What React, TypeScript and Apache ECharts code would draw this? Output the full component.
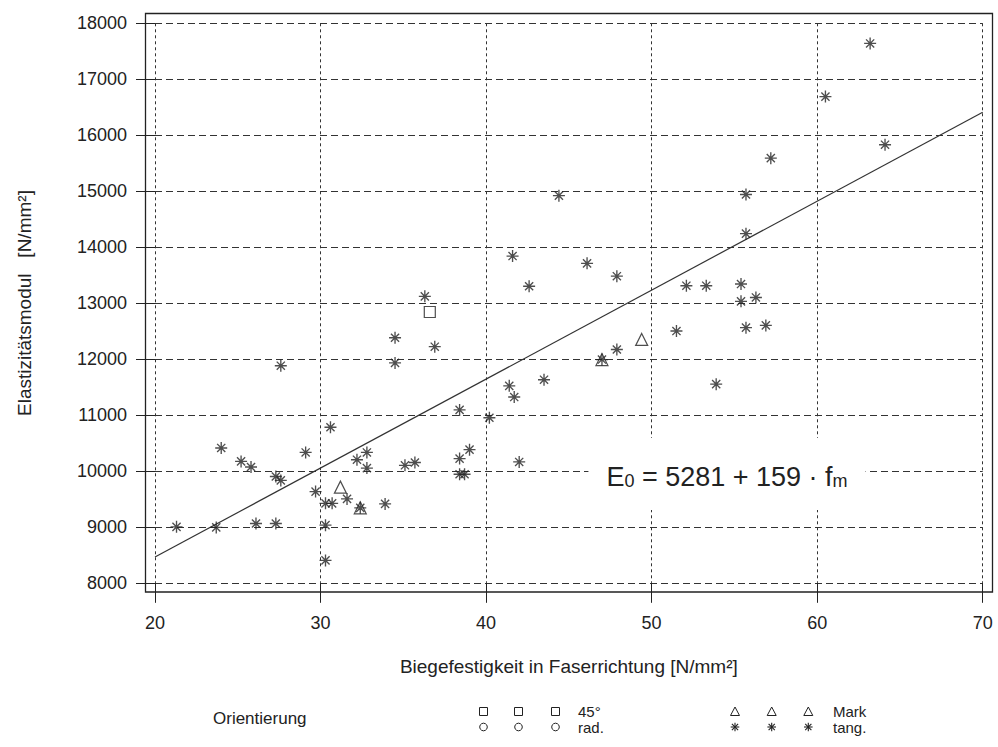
import React, { useEffect, useRef } from "react";
import * as echarts from "echarts";

// ---- Data ----
const xMin = 20;
const xMax = 70;
const xStep = 10;
const yMin = 8000;
const yMax = 18000;
const yStep = 1000;

const xAxisTitle = "Biegefestigkeit in Faserrichtung [N/mm²]";
const yAxisTitle = "Elastizitätsmodul   [N/mm²]";
const legendTitle = "Orientierung";
const legendLabels = ["45°", "rad.", "Mark", "tang."];

// Orientierung = tang. (asterisks)
const tangPoints: [number, number][] = [
  [21.3, 9000], [23.7, 8990], [24.0, 10410], [25.2, 10170], [25.8, 10070],
  [26.1, 9060], [27.3, 9060], [27.3, 9900], [27.6, 9830], [27.6, 11880],
  [29.1, 10330], [29.7, 9630], [30.3, 9030], [30.3, 8400], [30.3, 9420],
  [30.7, 9420], [30.6, 10780], [31.6, 9500], [32.2, 10200], [32.4, 9340],
  [32.8, 10330], [32.8, 10050], [33.9, 9410], [34.5, 12380], [34.5, 11930],
  [35.1, 10100], [35.7, 10150], [36.3, 13120], [36.9, 12220], [38.4, 11090],
  [38.4, 10220], [38.4, 9940], [38.7, 9940], [39.0, 10380], [40.2, 10950],
  [41.4, 11520], [41.7, 11320], [41.6, 13840], [42.0, 10160], [42.6, 13300],
  [43.5, 11630], [44.4, 14920], [46.1, 13710], [47.0, 11990], [47.9, 13480],
  [47.9, 12170], [51.5, 12500], [52.1, 13310], [53.3, 13310], [53.9, 11550],
  [55.4, 13340], [55.4, 13030], [55.7, 12560], [55.7, 14240], [55.7, 14940],
  [56.3, 13100], [56.9, 12600], [57.2, 15590], [60.5, 16690], [63.2, 17640],
  [64.1, 15830],
];
// Orientierung = Mark (triangles)
const markPoints: [number, number][] = [
  [31.2, 9710], [32.4, 9340], [47.0, 11990], [49.4, 12350],
];
// Orientierung = 45° (squares)
const deg45Points: [number, number][] = [[36.6, 12840]];
// Orientierung = rad. (circles) – none visible
const radPoints: [number, number][] = [];
// Regression line E0 = 5281 + 159 · fm, endpoints at 20 and 70
const fitLine: [number, number][] = [[20, 8461], [70, 16411]];

const INK = "#222222";
const FONT = "'Liberation Sans', Arial, Helvetica, sans-serif";
const STAR_PATH =
  "path://M5 0 L5 10 M0 5 L10 5 M1.6 1.6 L8.4 8.4 M1.6 8.4 L8.4 1.6";

function starGroup(cx: number, cy: number, r: number) {
  const d = r * 0.72;
  const st = { stroke: INK, lineWidth: 1.1 };
  return {
    type: "group",
    children: [
      { type: "line", shape: { x1: cx, y1: cy - r, x2: cx, y2: cy + r }, style: st },
      { type: "line", shape: { x1: cx - r, y1: cy, x2: cx + r, y2: cy }, style: st },
      { type: "line", shape: { x1: cx - d, y1: cy - d, x2: cx + d, y2: cy + d }, style: st },
      { type: "line", shape: { x1: cx - d, y1: cy + d, x2: cx + d, y2: cy - d }, style: st },
    ],
  };
}

export default function App() {
  const ref = useRef<HTMLDivElement>(null);

  useEffect(() => {
    if (!ref.current) return;
    const chart = echarts.init(ref.current, null, { renderer: "svg" });

    const legendXs = [483.5, 518.5, 555.5];
    const legendXs2 = [735, 771.7, 808.3];
    const row1 = 711.5;
    const row2 = 727;

    const legendGraphics: any[] = [];
    legendXs.forEach((x) => {
      legendGraphics.push({
        type: "rect",
        shape: { x: x - 4, y: row1 - 4, width: 8, height: 8 },
        style: { fill: "none", stroke: INK, lineWidth: 1 },
      });
      legendGraphics.push({
        type: "circle",
        shape: { cx: x, cy: row2, r: 3.8 },
        style: { fill: "none", stroke: INK, lineWidth: 1 },
      });
    });
    legendXs2.forEach((x) => {
      legendGraphics.push({
        type: "polygon",
        shape: { points: [[x, row1 - 4.5], [x + 4.5, row1 + 4], [x - 4.5, row1 + 4]] },
        style: { fill: "none", stroke: INK, lineWidth: 1 },
      });
      legendGraphics.push(starGroup(x, row2, 4.3));
    });
    const legendTextStyle = {
      fill: INK,
      font: `15px ${FONT}`,
      verticalAlign: "middle",
      lineHeight: 15,
    };
    legendGraphics.push(
      {
        type: "text",
        style: { ...legendTextStyle, text: legendTitle, x: 213, y: 718, font: `17px ${FONT}`, lineHeight: 17 },
      },
      { type: "text", style: { ...legendTextStyle, text: legendLabels[0], x: 578, y: row1 } },
      { type: "text", style: { ...legendTextStyle, text: legendLabels[1], x: 578, y: row2 } },
      { type: "text", style: { ...legendTextStyle, text: legendLabels[2], x: 833, y: row1 } },
      { type: "text", style: { ...legendTextStyle, text: legendLabels[3], x: 833, y: row2 } }
    );

    const option: any = {
      animation: false,
      backgroundColor: "#ffffff",
      textStyle: { fontFamily: FONT },
      grid: { left: 155, right: 15.3, top: 23.3, bottom: 164.2, containLabel: false },
      xAxis: {
        type: "value",
        min: xMin,
        max: xMax,
        interval: xStep,
        name: xAxisTitle,
        nameLocation: "middle",
        nameGap: 74,
        nameTextStyle: { color: INK, fontSize: 19, fontFamily: FONT },
        axisLine: { show: false },
        axisTick: { show: true, length: 20, lineStyle: { color: INK, width: 1 } },
        axisLabel: {
          color: INK,
          fontSize: 18,
          fontFamily: FONT,
          margin: 31,
          formatter: (v: number) => String(v),
        },
        splitLine: { show: true, lineStyle: { color: "#333", width: 1, type: [3, 3] } },
      },
      yAxis: {
        type: "value",
        min: yMin,
        max: yMax,
        interval: yStep,
        name: yAxisTitle,
        nameLocation: "middle",
        nameRotate: 90,
        nameGap: 121,
        nameTextStyle: { color: INK, fontSize: 19, fontFamily: FONT },
        axisLine: { show: false },
        axisTick: { show: true, length: 19, lineStyle: { color: INK, width: 1 } },
        axisLabel: {
          color: INK,
          fontSize: 18,
          fontFamily: FONT,
          margin: 28,
          formatter: (v: number) => String(v),
        },
        splitLine: { show: true, lineStyle: { color: "#333", width: 1, type: [7, 4] } },
      },
      series: [
        {
          name: "fit",
          type: "line",
          data: fitLine,
          symbol: "none",
          lineStyle: { color: "#333", width: 1.2 },
          z: 3,
        },
        {
          name: "45°",
          type: "scatter",
          data: deg45Points,
          symbol: "rect",
          symbolSize: 11,
          itemStyle: { color: "transparent", borderColor: INK, borderWidth: 1.2 },
          z: 4,
        },
        {
          name: "rad.",
          type: "scatter",
          data: radPoints,
          symbol: "circle",
          symbolSize: 10,
          itemStyle: { color: "transparent", borderColor: INK, borderWidth: 1.2 },
          z: 4,
        },
        {
          name: "Mark",
          type: "scatter",
          data: markPoints,
          symbol: "triangle",
          symbolSize: 12,
          itemStyle: { color: "transparent", borderColor: INK, borderWidth: 1.2 },
          z: 4,
        },
        {
          name: "tang.",
          type: "scatter",
          data: tangPoints,
          symbol: STAR_PATH,
          symbolSize: 12,
          itemStyle: { color: "transparent", borderColor: INK, borderWidth: 1.35 },
          z: 5,
        },
      ],
      graphic: [
        {
          type: "rect",
          z: 10,
          silent: true,
          shape: { x: 145.5, y: 13.5, width: 847, height: 578.5 },
          style: { fill: "none", stroke: INK, lineWidth: 1.3 },
        },
        {
          type: "text",
          z: 6,
          style: {
            x: 727,
            y: 474,
            align: "center",
            verticalAlign: "middle",
            backgroundColor: "#ffffff",
            padding: [20, 18, 20, 18],
            text: "{e|E}{s|0}{e| = 5281 + 159 · f}{s|m}",
            rich: {
              e: { fontSize: 27, fontFamily: FONT, fill: INK, lineHeight: 32, verticalAlign: "bottom" },
              s: { fontSize: 18, fontFamily: FONT, fill: INK, lineHeight: 32, verticalAlign: "bottom" },
            },
          },
        },
        ...legendGraphics,
      ],
    };

    chart.setOption(option);
    return () => chart.dispose();
  }, []);

  return (
    <div
      ref={ref}
      style={{ position: "fixed", left: 0, top: 0, width: 998, height: 747, background: "#fff" }}
    />
  );
}
